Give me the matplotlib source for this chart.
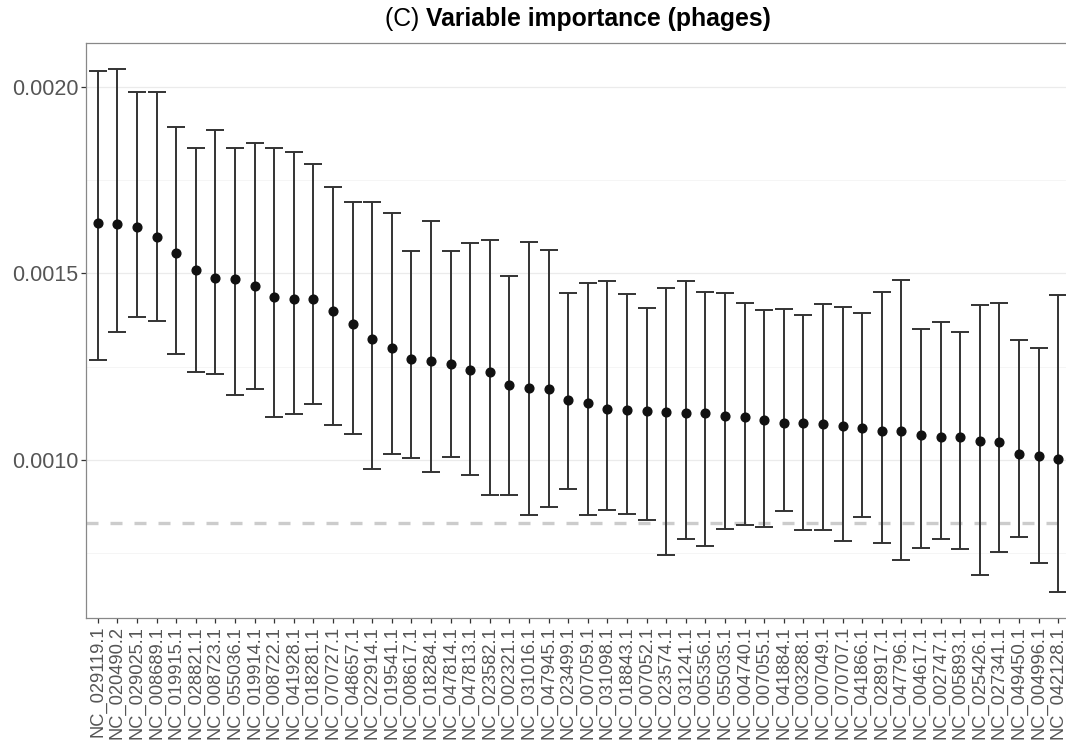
import numpy as np
import matplotlib
matplotlib.use("Agg")
import matplotlib.pyplot as plt
from matplotlib.ticker import FixedLocator

# phage accessions, ordered by importance
labels = [
    "NC_029119.1", "NC_020490.2", "NC_029025.1", "NC_008689.1", "NC_019915.1",
    "NC_028821.1", "NC_008723.1", "NC_055036.1", "NC_019914.1", "NC_008722.1",
    "NC_041928.1", "NC_018281.1", "NC_070727.1", "NC_048657.1", "NC_022914.1",
    "NC_019541.1", "NC_008617.1", "NC_018284.1", "NC_047814.1", "NC_047813.1",
    "NC_023582.1", "NC_002321.1", "NC_031016.1", "NC_047945.1", "NC_023499.1",
    "NC_007059.1", "NC_031098.1", "NC_018843.1", "NC_007052.1", "NC_023574.1",
    "NC_031241.1", "NC_005356.1", "NC_055035.1", "NC_004740.1", "NC_007055.1",
    "NC_041884.1", "NC_003288.1", "NC_007049.1", "NC_070707.1", "NC_041866.1",
    "NC_028917.1", "NC_047796.1", "NC_004617.1", "NC_002747.1", "NC_005893.1",
    "NC_025426.1", "NC_027341.1", "NC_049450.1", "NC_004996.1", "NC_042128.1",
]

importance = [
    0.001636, 0.001632, 0.001625, 0.001599, 0.001556, 0.001510, 0.001487, 0.001485,
    0.001467, 0.001437, 0.001432, 0.001431, 0.001398, 0.001365, 0.001325, 0.001300,
    0.001271, 0.001264, 0.001258, 0.001240, 0.001236, 0.001201, 0.001191, 0.001189,
    0.001161, 0.001151, 0.001137, 0.001134, 0.001130, 0.001127, 0.001125, 0.001125,
    0.001118, 0.001114, 0.001106, 0.001099, 0.001098, 0.001096, 0.001089, 0.001085,
    0.001078, 0.001076, 0.001066, 0.001062, 0.001060, 0.001050, 0.001047, 0.001014,
    0.001010, 0.001002,
]

upper = [
    0.002044, 0.002048, 0.001988, 0.001987, 0.001894, 0.001837, 0.001885, 0.001837,
    0.001850, 0.001836, 0.001826, 0.001794, 0.001731, 0.001693, 0.001691, 0.001662,
    0.001560, 0.001642, 0.001559, 0.001583, 0.001591, 0.001493, 0.001585, 0.001562,
    0.001448, 0.001474, 0.001480, 0.001444, 0.001408, 0.001460, 0.001481, 0.001450,
    0.001448, 0.001420, 0.001401, 0.001404, 0.001388, 0.001419, 0.001409, 0.001394,
    0.001450, 0.001483, 0.001352, 0.001370, 0.001343, 0.001414, 0.001421, 0.001321,
    0.001300, 0.001442,
]

lower = [
    0.001268, 0.001342, 0.001383, 0.001372, 0.001283, 0.001235, 0.001231, 0.001173,
    0.001190, 0.001114, 0.001122, 0.001149, 0.001093, 0.001070, 0.000974, 0.001014,
    0.001005, 0.000966, 0.001007, 0.000959, 0.000906, 0.000905, 0.000851, 0.000873,
    0.000920, 0.000850, 0.000866, 0.000853, 0.000838, 0.000743, 0.000786, 0.000767,
    0.000814, 0.000825, 0.000819, 0.000862, 0.000810, 0.000810, 0.000781, 0.000847,
    0.000776, 0.000730, 0.000762, 0.000788, 0.000759, 0.000691, 0.000753, 0.000792,
    0.000722, 0.000644,
]

threshold = 0.000830
y_major = [0.0010, 0.0015, 0.0020]
y_minor = [0.00075, 0.00125, 0.00175]

plt.rcParams.update({
    'font.family': ['Liberation Sans', 'DejaVu Sans'],
    'font.size': 15,
})

imp = np.array(importance)
up = np.array(upper)
lo = np.array(lower)
x = np.arange(len(labels))

fig = plt.figure(figsize=(10.66, 7.42), dpi=100)
# panel runs slightly past the right edge, like the cropped original
ax = fig.add_axes([0.0807, 0.1667, 0.923, 0.775])

ax.axhline(threshold, color="#cccccc", lw=2.4, ls=(0, (3.6, 3.6)), zorder=1)

ax.errorbar(x, imp, yerr=[imp - lo, up - imp], fmt="none", ecolor="#333333",
            elinewidth=1.4, capsize=6.2, capthick=1.4, zorder=2)
ax.plot(x, imp, "o", color="#111111", ms=6.3, zorder=3)

ax.set_xlim(-0.6, len(labels) - 0.4)
rng = max(upper) - min(lower)
ax.set_ylim(min(lower) - 0.05 * rng, max(upper) + 0.05 * rng)

ax.set_xticks(x)
ax.set_xticklabels(labels, rotation=90, fontsize=13.2, color="#555555")
ax.yaxis.set_major_locator(FixedLocator(y_major))
ax.yaxis.set_minor_locator(FixedLocator(y_minor))
ax.set_yticklabels([f"{v:.4f}" for v in y_major], fontsize=15.5, color="#555555")

ax.grid(False)
for v in y_major:
    ax.axhline(v, color="#ebebeb", lw=0.9, zorder=0)
for v in y_minor:
    ax.axhline(v, color="#f4f4f4", lw=0.6, zorder=0)

ax.tick_params(axis="both", which="major", length=3.5, width=0.9, color="#333333", pad=2)
ax.tick_params(axis="y", which="minor", length=0)
for spine in ax.spines.values():
    spine.set_color("#888888")
    spine.set_linewidth(0.9)

# title: "(C)" regular, rest bold, centred over the panel
cx = (86 + 1070) / 2 / 1066
ty = 1 - 19 / 742
t1 = fig.text(0, ty, "(C) ", fontsize=17.8, va="center", ha="left")
t2 = fig.text(0, ty, "Variable importance (phages)", fontsize=17.8, weight="bold",
              va="center", ha="left")
fig.canvas.draw()
r = fig.canvas.get_renderer()
w1 = t1.get_window_extent(r).width / fig.bbox.width
w2 = t2.get_window_extent(r).width / fig.bbox.width
x0 = cx - (w1 + w2) / 2
t1.set_x(x0)
t2.set_x(x0 + w1)

plt.savefig("out.png", dpi=100)
plt.close()
